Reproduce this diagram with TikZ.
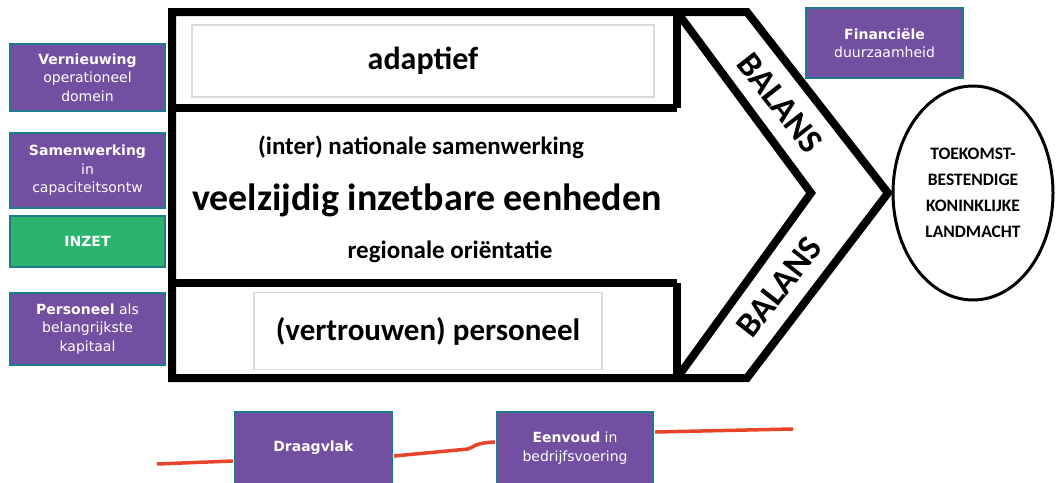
\documentclass[tikz,border=0pt]{standalone}
\usepackage{fontspec}
\usetikzlibrary{shapes.geometric}
\newfontfamily\boxfont{DejaVu Sans}
\newfontfamily\arrowfont{Carlito}
\definecolor{pijlpaars}{RGB}{114,79,160}
\definecolor{randblauw}{RGB}{31,122,140}
\definecolor{inzetgroen}{RGB}{42,180,110}
\definecolor{lijnrood}{RGB}{232,68,42}
\definecolor{kadergrijs}{RGB}{218,218,218}

\begin{document}
\begin{tikzpicture}[x=1pt,y=-1pt]
  \tikzstyle{doel node}=[rectangle,fill=pijlpaars,draw=randblauw,line width=2.2pt,text=white,
    align=center,inner sep=0,minimum width=155pt,font=\boxfont\fontsize{14}{18.5}\selectfont]
  \tikzstyle{band node}=[rectangle,draw=kadergrijs,line width=1.2pt,inner sep=0]
  \tikzstyle{pijl tekst}=[inner sep=0,font=\arrowfont\bfseries]
  \tikzstyle{rode lijn}=[draw=lijnrood,line width=3.5pt]
  \clip (0,0) rectangle (1056,482);
  \fill[white] (0,0) rectangle (1056,482);
  % de pijl
  \draw[line width=8pt,line join=miter] (172,12) -- (747,12) -- (888,193) -- (747,378) -- (172,378) -- cycle;
  \draw[line width=8pt,line join=miter] (677,12) -- (811,193) -- (677,378);
  \draw[line width=8pt] (677,12) -- (677,108) (172,108) -- (677,108);
  \draw[line width=8pt] (677,283) -- (677,378) (172,283) -- (677,283);
  \node(adaptief)[band node,minimum width=462pt,minimum height=72pt] at (423,61)
    {\arrowfont\bfseries\fontsize{32}{36}\selectfont adaptief};
  \node(personeel)[band node,minimum width=348pt,minimum height=77pt] at (428,331)
    {\arrowfont\bfseries\fontsize{31}{36}\selectfont (vertrouwen) personeel};
  \node(samen)[pijl tekst,font=\arrowfont\bfseries\fontsize{25}{30}\selectfont] at (421,147) {(inter) nationale samenwerking};
  \node(eenheden)[pijl tekst,font=\arrowfont\bfseries\fontsize{38}{42}\selectfont] at (427,200) {veelzijdig inzetbare eenheden};
  \node(regio)[pijl tekst,font=\arrowfont\bfseries\fontsize{25}{30}\selectfont] at (450,252) {regionale oriëntatie};
  \node(balans1)[pijl tekst,rotate=-52,font=\arrowfont\bfseries\fontsize{35}{40}\selectfont] at (780,103) {BALANS};
  \node(balans2)[pijl tekst,rotate=52,font=\arrowfont\bfseries\fontsize{35}{40}\selectfont] at (779,287) {BALANS};
  \node(doel)[ellipse,draw,line width=3pt,minimum width=160pt,minimum height=214pt,align=center,
    font=\arrowfont\bfseries\fontsize{17.5}{26}\selectfont] at (973,193)
    {TOEKOMST-\\BESTENDIGE\\KONINKLIJKE\\LANDMACHT};
  % de kaders
  \node(vernieuwing)[doel node,minimum height=67pt] at (87.5,77.5)
    {\textbf{Vernieuwing}\\operationeel\\domein};
  \node(samenwerking)[doel node,minimum height=75pt] at (87.5,170.5)
    {\textbf{Samenwerking}\\in\\capaciteitsontw};
  \node(inzet)[doel node,fill=inzetgroen,minimum height=51pt] at (87.5,241.5)
    {\textbf{INZET}};
  \node(kapitaal)[doel node,minimum height=72pt] at (87.5,329)
    {\textbf{Personeel} als\\belangrijkste\\kapitaal};
  \node(financieel)[doel node,minimum width=157pt,minimum height=70pt] at (884.5,43)
    {\textbf{Financiële}\\duurzaamheid};
  \node(draagvlak)[doel node,minimum width=157pt,minimum height=72pt] at (313.5,448)
    {\textbf{Draagvlak}};
  \node(eenvoud)[doel node,minimum width=156pt,minimum height=72pt] at (575,448)
    {\textbf{Eenvoud} in\\bedrijfsvoering};
  % rode lijn
  \coordinate(begin) at (157,464);
  \coordinate(knik) at (468,449);
  \coordinate(eind) at (793,429);
  \draw[rode lijn] (begin) -- ([yshift=-13pt,xshift=-1pt]draagvlak.west);
  \draw[rode lijn] ([yshift=-8pt,xshift=1pt]draagvlak.east) -- (knik)
    .. controls (474,447) and (474,443) .. ([yshift=6pt,xshift=-1pt]eenvoud.west);
  \draw[rode lijn] ([yshift=16pt,xshift=1pt]eenvoud.east) -- (eind);
\end{tikzpicture}
\end{document}
